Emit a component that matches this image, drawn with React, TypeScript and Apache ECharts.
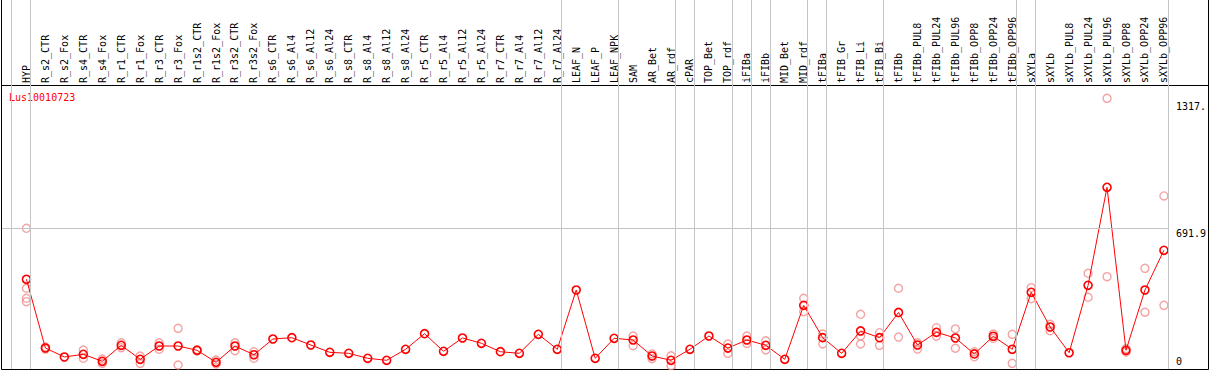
import React, { useEffect, useRef } from "react";
import * as echarts from "echarts";

const categories = [
  "HYP", "R_s2_CTR", "R_s2_Fox", "R_s4_CTR", "R_s4_Fox", "R_r1_CTR", "R_r1_Fox", "R_r3_CTR", "R_r3_Fox",
  "R_r1s2_CTR", "R_r1s2_Fox", "R_r3s2_CTR", "R_r3s2_Fox", "R_s6_CTR", "R_s6_Al4", "R_s6_Al12", "R_s6_Al24",
  "R_s8_CTR", "R_s8_Al4", "R_s8_Al12", "R_s8_Al24", "R_r5_CTR", "R_r5_Al4", "R_r5_Al12", "R_r5_Al24",
  "R_r7_CTR", "R_r7_Al4", "R_r7_Al12", "R_r7_Al24", "LEAF_N", "LEAF_P", "LEAF_NPK", "SAM", "AR_Bet", "AR_rdf",
  "cPAR", "TOP_Bet", "TOP_rdf", "iFIBa", "iFIBb", "MID_Bet", "MID_rdf", "tFIBa", "tFIB_Gr", "tFIB_Li", "tFIB_Bi",
  "tFIBb", "tFIBb_PUL8", "tFIBb_PUL24", "tFIBb_PUL96", "tFIBb_OPP8", "tFIBb_OPP24", "tFIBb_OPP96",
  "sXYLa", "sXYLb", "sXYLb_PUL8", "sXYLb_PUL24", "sXYLb_PUL96", "sXYLb_OPP8", "sXYLb_OPP24", "sXYLb_OPP96",
];

const means = [
  441.2, 103.3, 59, 72.3, 37.9, 116.5, 47.7, 113, 113,
  92, 33, 113, 70, 147.5, 154, 118, 82,
  77, 52.6, 42.8, 96.9, 173.6, 87, 152.5, 126.4,
  85, 77, 170.6, 96.9, 388.5, 52.6, 151, 142.6, 64, 42.8,
  96.9, 162.3, 103, 142.6, 116.5, 47.7, 313, 154, 77, 187, 154,
  278, 118, 180.5, 152.5, 74, 161, 97,
  377, 206.6, 80, 411.6, 893.6, 92, 388.5, 583.8,
];

const replicates: number[][] = [
  [691.9, 396.9, 347.7, 331.0], [108, 98], [], [93.4, 52.6], [49, 28], [129, 105], [64, 28], [129, 97], [200, 19.7],
  [95, 89], [44, 24.6], [129, 90], [85, 52.6], [], [], [], [],
  [], [], [], [], [], [], [], [],
  [], [], [], [], [], [], [], [162, 114.6], [74, 51], [65, 16],
  [], [], [123, 77], [162, 126], [139, 93.4], [], [347.7, 282], [172, 123], [], [269, 162, 123], [178.5, 116.5],
  [397, 157], [98, 129], [203, 162], [197, 102], [85, 60], [172, 151], [170.6, 28],
  [400, 346], [220, 188], [], [470.6, 352.6], [1331, 454], [100, 84], [495, 279], [851, 313],
];

// group separators: drawn just after these category indices
const groupEnds = [-1, 0, 28, 31, 34, 35, 37, 38, 39, 41, 42, 45, 52, 53, 60];

const yTickValues = [0, 691.9, 1317];
const yTickLabels = ["0", "691.9", "1317."];
const geneName = "Lus10010723";

const FONT = "DejaVu Sans Mono";

export default function App() {
  const ref = useRef<HTMLDivElement>(null);
  useEffect(() => {
    document.body.style.margin = "0";
    const chart = echarts.init(ref.current!, null, { renderer: "svg" });
    const repData: number[][] = [];
    replicates.forEach((arr, i) => arr.forEach((v) => repData.push([i, v])));
    const labelFor = (v: number) => {
      const k = yTickValues.indexOf(v);
      return k >= 0 ? yTickLabels[k] : "";
    };
    chart.setOption({
      animation: false,
      grid: { left: 2, right: 38.5, top: 0, bottom: 1 },
      xAxis: {
        type: "value",
        min: -1.2895,
        max: 60.21,
        position: "top",
        offset: -85,
        axisLine: { show: false },
        axisTick: { show: false },
        splitLine: { show: false },
        axisLabel: {
          customValues: categories.map((_, i) => i),
          formatter: (v: number) => categories[Math.round(v)] ?? "",
          rotate: 90,
          margin: 2,
          fontFamily: FONT,
          fontSize: 10,
          color: "#000",
        },
      },
      yAxis: [
        {
          type: "value",
          min: 0,
          max: 1814.6,
          position: "right",
          axisLine: { show: false },
          axisTick: { show: false },
          splitLine: { show: false },
          axisLabel: {
            customValues: [yTickValues[1], yTickValues[2]],
            formatter: labelFor,
            verticalAlign: "top",
            margin: 8,
            fontFamily: FONT,
            fontSize: 10,
            color: "#000",
          },
        },
        {
          type: "value",
          min: 0,
          max: 1814.6,
          position: "right",
          axisLine: { show: false },
          axisTick: { show: false },
          splitLine: { show: false },
          axisLabel: {
            customValues: [yTickValues[0]],
            formatter: labelFor,
            verticalAlign: "bottom",
            margin: 8,
            padding: [0, 0, 3, 0],
            fontFamily: FONT,
            fontSize: 10,
            color: "#000",
          },
        },
      ],
      series: [
        {
          type: "line",
          data: [],
          silent: true,
          markLine: {
            silent: true,
            symbol: "none",
            label: { show: false },
            lineStyle: { color: "#c4c4c4", width: 1, type: "solid" },
            data: [
              ...groupEnds.map((k) => ({ xAxis: k + 0.21 })),
              { yAxis: yTickValues[1] },
            ],
          },
        },
        {
          type: "scatter",
          data: repData,
          symbol: "circle",
          symbolSize: 8,
          z: 3,
          itemStyle: { color: "rgba(0,0,0,0)", borderColor: "#f08c8c", borderWidth: 1.4 },
        },
        {
          type: "line",
          data: means.map((v, i) => [i, v]),
          symbol: "circle",
          symbolSize: 8,
          showAllSymbol: true,
          z: 4,
          lineStyle: { color: "#ff0000", width: 1 },
          itemStyle: { color: "rgba(0,0,0,0)", borderColor: "#ff0000", borderWidth: 1.6 },
        },
      ],
      graphic: [
        { type: "line", shape: { x1: 1.5, y1: 0, x2: 1.5, y2: 369.5 }, style: { stroke: "#000", lineWidth: 1 } },
        { type: "line", shape: { x1: 1.5, y1: 369.5, x2: 1208.5, y2: 369.5 }, style: { stroke: "#000", lineWidth: 1 } },
        { type: "line", shape: { x1: 1208.5, y1: 0, x2: 1208.5, y2: 369.5 }, style: { stroke: "#000", lineWidth: 1 } },
        { type: "line", shape: { x1: 1.5, y1: 85.5, x2: 1208.5, y2: 85.5 }, style: { stroke: "#000", lineWidth: 1 } },
        {
          type: "text",
          left: 9,
          top: 92,
          style: { text: geneName, fill: "#ff0000", font: `10px "${FONT}"` },
        },
      ],
    });
    return () => chart.dispose();
  }, []);
  return <div ref={ref} style={{ width: 1209, height: 370 }} />;
}
